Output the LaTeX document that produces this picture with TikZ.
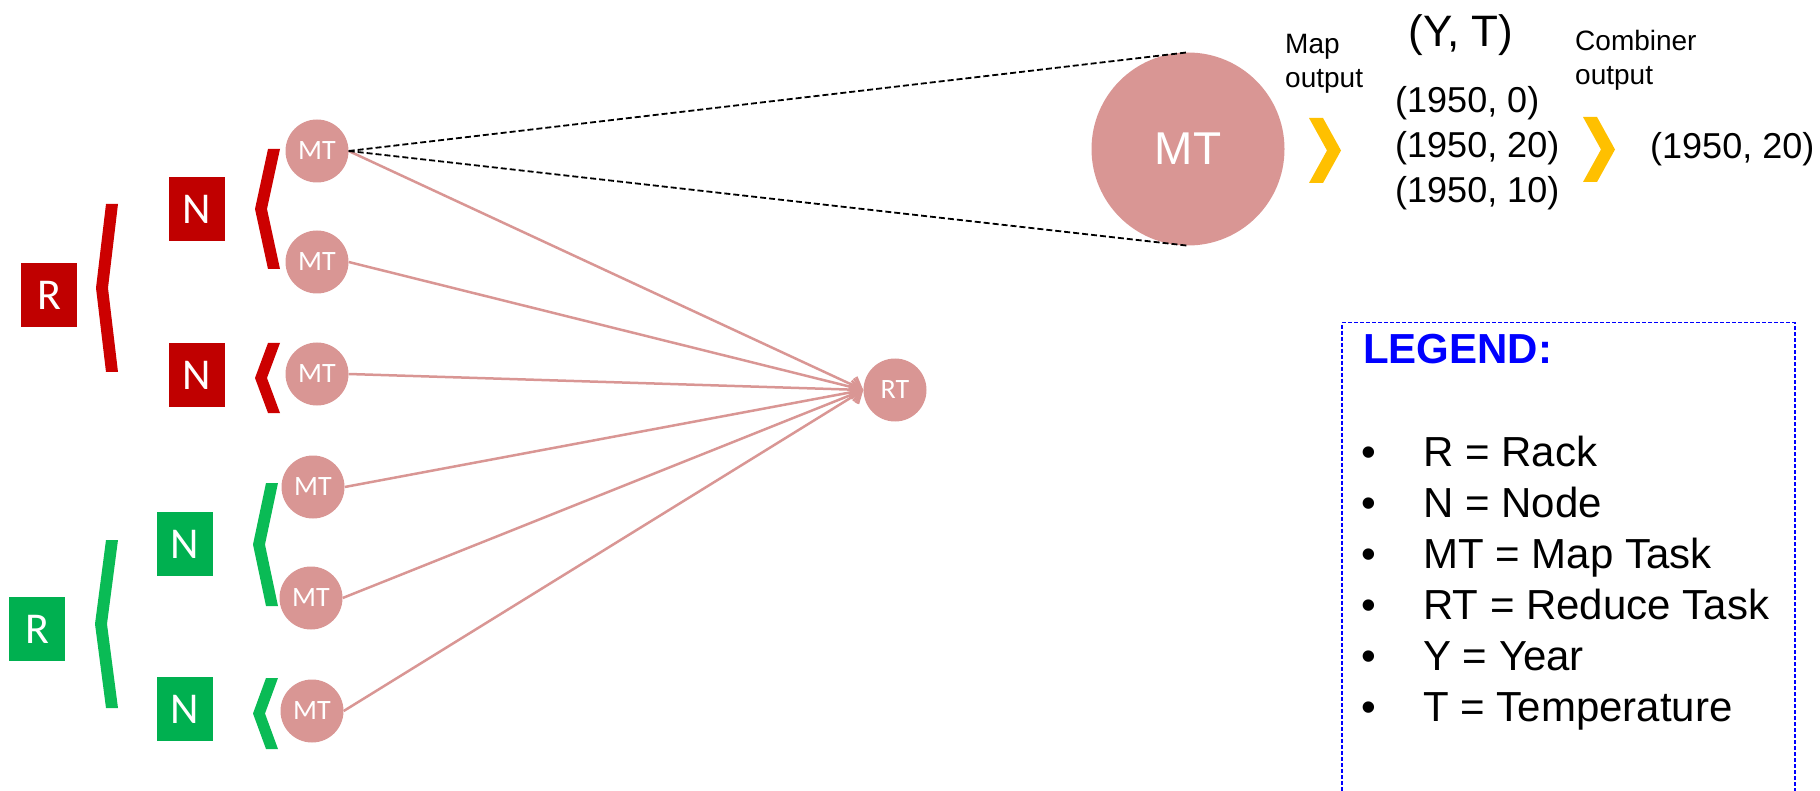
\documentclass[tikz,border=0pt]{standalone}
\usepackage{fontspec}
\setmainfont{Liberation Sans}
\newfontfamily\calibrifont{Carlito}
\usetikzlibrary{arrows.meta, positioning, calc}

\definecolor{rackred}{HTML}{C00000}
\definecolor{bracered}{HTML}{CC0000}
\definecolor{rackgreen}{HTML}{00B050}
\definecolor{bracegreen}{HTML}{0ABB55}
\definecolor{taskpink}{HTML}{D99694}
\definecolor{chevgold}{HTML}{FFC000}
\definecolor{legblue}{HTML}{0000FF}

% bracket: colour, right x, top y, bottom y, depth
\newcommand{\brk}[5]{%
  \fill[#1] ({#2-12},#3) -- (#2,#3) -- ({#2-#5},{(#3+#4)/2}) -- (#2,#4)
    -- ({#2-12},#4) -- ({#2-12-#5},{(#3+#4)/2}) -- cycle;}
% chevron: top left corner
\newcommand{\chev}[2]{%
  \fill[chevgold] (#1,#2) -- ({#1+14},#2) -- ({#1+32},{#2+32.5}) -- ({#1+14},{#2+65})
    -- (#1,{#2+65}) -- ({#1+18},{#2+32.5}) -- cycle;}

\begin{document}
\begin{tikzpicture}[
    x=1pt, y=-1pt,
    box/.style = {rectangle, minimum width=56pt, minimum height=64pt, inner sep=0pt, text=white, font=\calibrifont\fontsize{44}{44}\selectfont},
    task/.style = {circle, fill=taskpink, minimum size=63pt, inner sep=0pt, text=white, font=\calibrifont\fontsize{28}{28}\selectfont},
    link/.style = {draw=taskpink, line width=2.5pt, -{Straight Barb[length=10pt, width=18pt]}},
    zoomline/.style = {draw=black, line width=1.8pt, dash pattern=on 6pt off 3pt},
    mapcap/.style = {anchor=base west, inner sep=0pt, align=left, font=\fontsize{28}{34}\selectfont},
    kvpair/.style = {anchor=base west, inner sep=0pt, align=left, font=\fontsize{36}{45}\selectfont},
    legitem/.style = {anchor=base west, inner sep=0pt, font=\fontsize{42}{42}\selectfont}
]
\useasboundingbox (0,0) rectangle (1820,791);

% =========================================================
% RACKS AND NODES
% =========================================================
\node[box, fill=rackred] (rack_red) at (49,295) {R};
\node[box, fill=rackred] (node_red_a) at (197,209) {N};
\node[box, fill=rackred] (node_red_b) at (197,375) {N};

\node[box, fill=rackgreen] (rack_green) at (37,629) {R};
\node[box, fill=rackgreen] (node_green_a) at (185,544) {N};
\node[box, fill=rackgreen] (node_green_b) at (185,709) {N};

% Brackets
\brk{bracered}{118}{204}{372}{10}
\brk{bracered}{280}{149}{269}{13}
\brk{bracered}{280}{343}{413}{13}
\brk{bracegreen}{118}{540}{708}{11}
\brk{bracegreen}{278}{483}{606}{13}
\brk{bracegreen}{278}{678}{749}{13}

% =========================================================
% MAP TASKS AND REDUCE TASK
% =========================================================
\node[task] (mt_a) at (317,151) {MT};
\node[task] (mt_b) at (317,262) {MT};
\node[task] (mt_c) at (317,374) {MT};
\node[task] (mt_d) at (313,487) {MT};
\node[task] (mt_e) at (311,598) {MT};
\node[task] (mt_f) at (312,711) {MT};

\node[task] (rt) at (895,390) {RT};

\draw[link] (mt_a.east) -- (rt.west);
\draw[link] (mt_b.east) -- (rt.west);
\draw[link] (mt_c.east) -- (rt.west);
\draw[link] (mt_d.east) -- (rt.west);
\draw[link] (mt_e.east) -- (rt.west);
\draw[link] (mt_f.east) -- (rt.west);

% =========================================================
% ZOOM ON ONE MAP TASK
% =========================================================
\node[circle, fill=taskpink, minimum size=193pt, inner sep=0pt, text=white, font=\fontsize{46}{46}\selectfont] (big_mt) at (1188,149) {MT};

\draw[zoomline] (mt_a.east) -- (big_mt.north);
\draw[zoomline] (mt_a.east) -- (big_mt.south);

% multi-line nodes: base is the last line
\node[mapcap] (map_out) at (1285,88) {Map\\output};
\chev{1309}{118}
\node[anchor=base, inner sep=0pt, font=\fontsize{44}{44}\selectfont] (yt) at (1461,47) {(Y, T)};
\node[kvpair] (map_pairs) at (1395,203) {(1950, 0)\\(1950, 20)\\(1950, 10)};

\node[mapcap] (comb_out) at (1575,85) {Combiner\\output};
\chev{1583}{117}
\node[kvpair] (comb_pair) at (1650,159) {(1950, 20)};

% =========================================================
% LEGEND
% =========================================================
\node[draw=legblue, line width=1.5pt, dash pattern=on 4pt off 2pt, anchor=north west,
      minimum width=453pt, minimum height=490pt, inner sep=0pt] (legend) at (1341,322) {};
\node[anchor=base west, inner sep=0pt, text=legblue, font=\bfseries\fontsize{42}{42}\selectfont] (leg_title) at (1363,363) {LEGEND:};
\node[legitem] (leg_r) at (1361,466) {\makebox[62pt][l]{•}R = Rack};
\node[legitem] (leg_n) at (1361,517) {\makebox[62pt][l]{•}N = Node};
\node[legitem] (leg_mt) at (1361,568) {\makebox[62pt][l]{•}MT = Map Task};
\node[legitem] (leg_rt) at (1361,619) {\makebox[62pt][l]{•}RT = Reduce Task};
\node[legitem] (leg_y) at (1361,670) {\makebox[62pt][l]{•}Y = Year};
\node[legitem] (leg_t) at (1361,721) {\makebox[62pt][l]{•}T = Temperature};

\end{tikzpicture}
\end{document}
